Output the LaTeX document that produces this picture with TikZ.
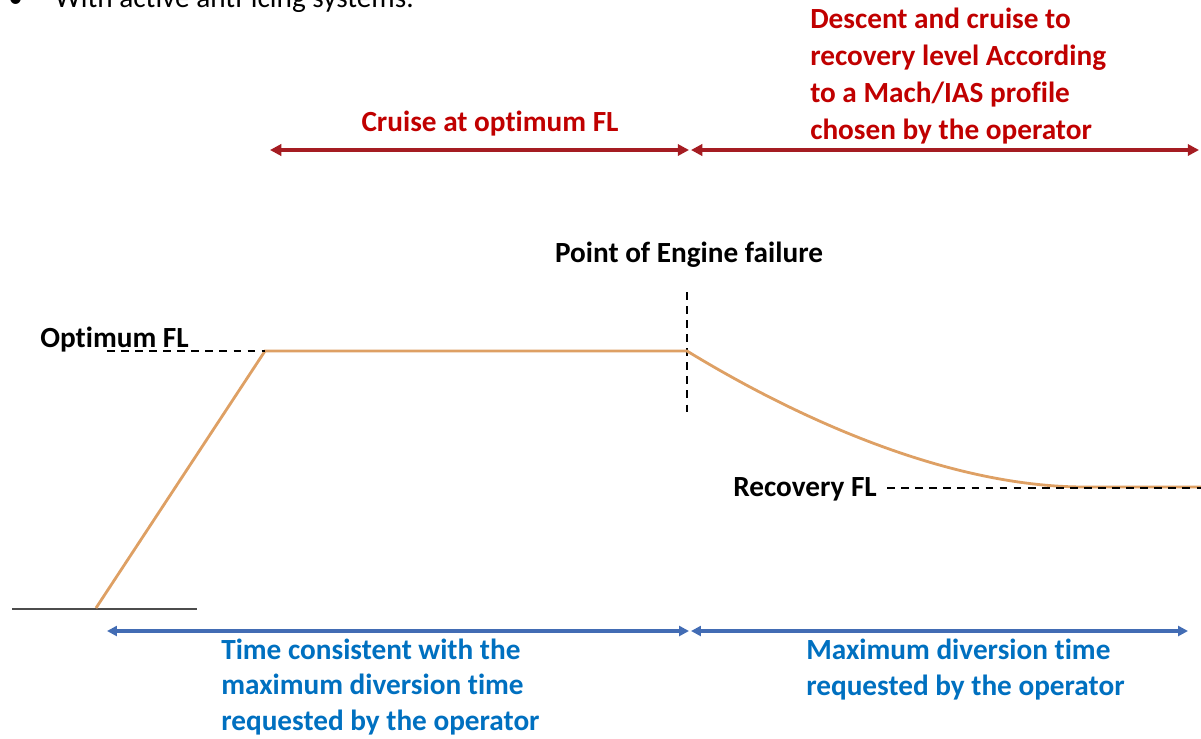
\documentclass[tikz,border=0pt]{standalone}
\usepackage{fontspec}
\setmainfont{Carlito}[Ligatures=NoCommon]
\usetikzlibrary{arrows.meta}
\definecolor{lblred}{RGB}{192,0,0}
\definecolor{arwred}{RGB}{165,28,34}
\definecolor{lblblue}{RGB}{0,112,192}
\definecolor{arwblue}{RGB}{66,108,180}
\definecolor{profile}{RGB}{222,160,100}
\tikzset{
  redspan/.style={draw=arwred, line width=3.2pt, {Triangle[length=8pt,width=8pt]}-{Triangle[length=8pt,width=8pt]}},
  bluespan/.style={draw=arwblue, line width=2.6pt, {Triangle[length=7pt,width=7pt]}-{Triangle[length=7pt,width=7pt]}},
  redlbl/.style={text=lblred, font=\fontsize{20.8}{26.3}\selectfont\bfseries, align=left, inner sep=0pt},
  bluelbl/.style={text=lblblue, font=\fontsize{20.8}{25}\selectfont\bfseries, align=left, inner sep=0pt},
  flbl/.style={font=\fontsize{20.8}{25}\selectfont\bfseries, inner sep=0pt},
  guide/.style={line width=1.4pt, dash pattern=on 5.5pt off 4.5pt}
}
\begin{document}
\begin{tikzpicture}[x=0.025cm, y=-0.025cm]
		%%%%% START %%%%%
		\useasboundingbox (0, 0) rectangle (1201, 738);
		\clip (0, 0) rectangle (1201, 738);
		
		% cut-off bullet line at the top
		\node[anchor=base west, inner sep=0pt, font=\fontsize{20.8}{25}\selectfont] (bullet) at (8, 7) {\textbullet\hspace{0.8cm}With active anti-icing systems.};
		
		% red spans
		\coordinate (rA) at (270, 150);
		\coordinate (rB) at (689, 150);
		\coordinate (rC) at (691, 150);
		\coordinate (rD) at (1199, 150);
		\draw[redspan] (rA) -- (rB);
		\draw[redspan] (rC) -- (rD);
		\node[redlbl, anchor=base] (cruise) at (490, 131) {Cruise at optimum FL};
		% base of a multi-line node = last line
		\node[redlbl, anchor=base west] (descent) at (810, 139) {Descent and cruise to\\recovery level According\\to a Mach/IAS profile\\chosen by the operator};
		
		% engine failure
		\node[flbl, anchor=base] (failure) at (689, 262) {Point of Engine failure};
		\coordinate (fTop) at (687, 292);
		\coordinate (fBot) at (687, 416);
		\draw[guide] (fTop) -- (fBot);
		
		% ground
		\coordinate (g1) at (12, 609);
		\coordinate (g2) at (197, 609);
		\draw[line width=1.1pt, black!70] (g1) -- (g2);
		
		% flight profile
		\coordinate (p0) at (96, 608);
		\coordinate (p1) at (265, 351);
		\coordinate (p2) at (687, 351);
		\coordinate (p3) at (1085, 487);
		\coordinate (p4) at (1201, 487);
		\draw[profile, line width=2pt] (p0) -- (p1) -- (p2) .. controls (800, 420) and (950, 487) .. (p3) -- (p4);
		
		% flight levels
		\node[flbl, anchor=base west] (optfl) at (40, 347) {Optimum FL};
		\coordinate (o1) at (107, 351);
		\draw[guide] (o1) -- (p1);
		\node[flbl, anchor=base west] (recfl) at (733, 496) {Recovery FL};
		\coordinate (r1) at (1201, 488);
		\draw[guide] (recfl.east |- r1) ++(10, 0) -- (r1);
		
		% blue spans
		\coordinate (bA) at (107, 631);
		\coordinate (bB) at (689, 631);
		\coordinate (bC) at (691, 631);
		\coordinate (bD) at (1188, 631);
		\draw[bluespan] (bA) -- (bB);
		\draw[bluespan] (bC) -- (bD);
		\node[bluelbl, anchor=base west] (consistent) at (221, 730) {Time consistent with the\\maximum diversion time\\requested by the operator};
		\node[bluelbl, anchor=base west] (maxdiv) at (806, 695) {Maximum diversion time\\requested by the operator};
		
		%%%%% END %%%%%
	\end{tikzpicture}
\end{document}
